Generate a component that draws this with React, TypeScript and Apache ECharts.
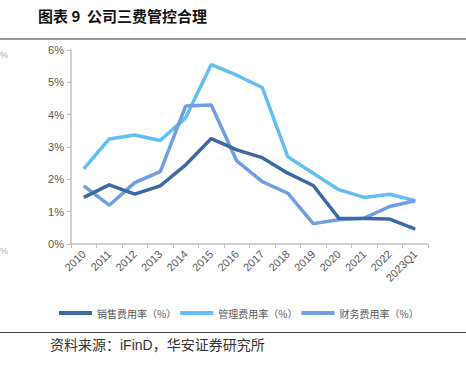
import React, { useEffect, useRef } from "react";
import * as echarts from "echarts";

const categories = ["2010", "2011", "2012", "2013", "2014", "2015", "2016", "2017", "2018", "2019", "2020", "2021", "2022", "2023Q1"];
const salesRate = [1.44, 1.83, 1.54, 1.8, 2.45, 3.26, 2.91, 2.67, 2.19, 1.81, 0.8, 0.79, 0.77, 0.46];
const mgmtRate = [2.32, 3.25, 3.37, 3.2, 3.91, 5.55, 5.22, 4.84, 2.7, 2.19, 1.68, 1.44, 1.54, 1.34];
const finRate = [1.8, 1.2, 1.9, 2.24, 4.27, 4.3, 2.57, 1.93, 1.57, 0.63, 0.75, 0.8, 1.16, 1.34];
const seriesNames = ["销售费用率（%）", "管理费用率（%）", "财务费用率（%）"];
const seriesColors = ["#3C6AA5", "#63BEF4", "#6F9FE0"];
const yTicks = { min: 0, max: 6, interval: 1 };

const FONT = "'Liberation Sans', Arial, 'Noto Sans CJK SC', sans-serif";

export default function App() {
  const ref = useRef<HTMLDivElement>(null);
  useEffect(() => {
    if (!ref.current) return;
    const chart = echarts.init(ref.current, undefined, { renderer: "svg" });
    const data = [salesRate, mgmtRate, finRate];
    chart.setOption({
      animation: false,
      backgroundColor: "#ffffff",
      textStyle: { fontFamily: FONT },
      graphic: [
        {
          type: "text",
          left: 38,
          top: 8,
          style: { text: "图表 9  公司三费管控合理", font: "bold 15px 'Noto Sans CJK SC', sans-serif", fill: "#111" },
        },
        { type: "rect", shape: { x: 0, y: 38, width: 466, height: 2 }, style: { fill: "#999" } },
        { type: "rect", shape: { x: 0, y: 332, width: 466, height: 1 }, style: { fill: "#444" } },
        {
          type: "text",
          left: 50,
          top: 338,
          style: { text: "资料来源：iFinD，华安证券研究所", font: "14px 'Liberation Sans', 'Noto Sans CJK SC', sans-serif", fill: "#333" },
        },
        { type: "text", x: 0, y: 50, style: { text: "%", font: "9px 'Liberation Sans'", fill: "#aaa" } },
        { type: "text", x: 0, y: 246, style: { text: "%", font: "9px 'Liberation Sans'", fill: "#aaa" } },
      ],
      grid: { left: 71, right: 38, top: 50, bottom: 123, containLabel: false },
      legend: {
        top: 303,
        left: 54,
        width: 410,
        itemWidth: 33,
        itemHeight: 4,
        itemGap: 4,
        icon: "rect",
        textStyle: { fontSize: 10, color: "#595959", fontFamily: "'Noto Sans CJK SC', sans-serif" },
        data: seriesNames,
      },
      xAxis: {
        type: "category",
        data: categories,
        boundaryGap: true,
        axisLine: { lineStyle: { color: "#BFBFBF", width: 1.5 } },
        axisTick: { show: true, alignWithLabel: false, length: 4, lineStyle: { color: "#BFBFBF" } },
        axisLabel: { rotate: 45, interval: 0, fontSize: 11, color: "#595959", margin: 8 },
        splitLine: { show: false },
      },
      yAxis: {
        type: "value",
        min: yTicks.min,
        max: yTicks.max,
        interval: yTicks.interval,
        axisLine: { show: true, lineStyle: { color: "#BFBFBF", width: 1.5 } },
        axisTick: { show: true, length: 4, lineStyle: { color: "#BFBFBF" } },
        axisLabel: { formatter: "{value}%", fontSize: 11, color: "#595959", margin: 7 },
        splitLine: { show: false },
      },
      series: seriesNames.map((name, i) => ({
        name,
        type: "line",
        data: data[i],
        showSymbol: false,
        symbol: "none",
        lineStyle: { width: 3.5, color: seriesColors[i] },
        itemStyle: { color: seriesColors[i] },
        z: i === 0 ? 3 : 2,
      })),
    });
    return () => chart.dispose();
  }, []);
  return <div ref={ref} style={{ position: "fixed", left: 0, top: 0, width: 466, height: 367 }} />;
}
